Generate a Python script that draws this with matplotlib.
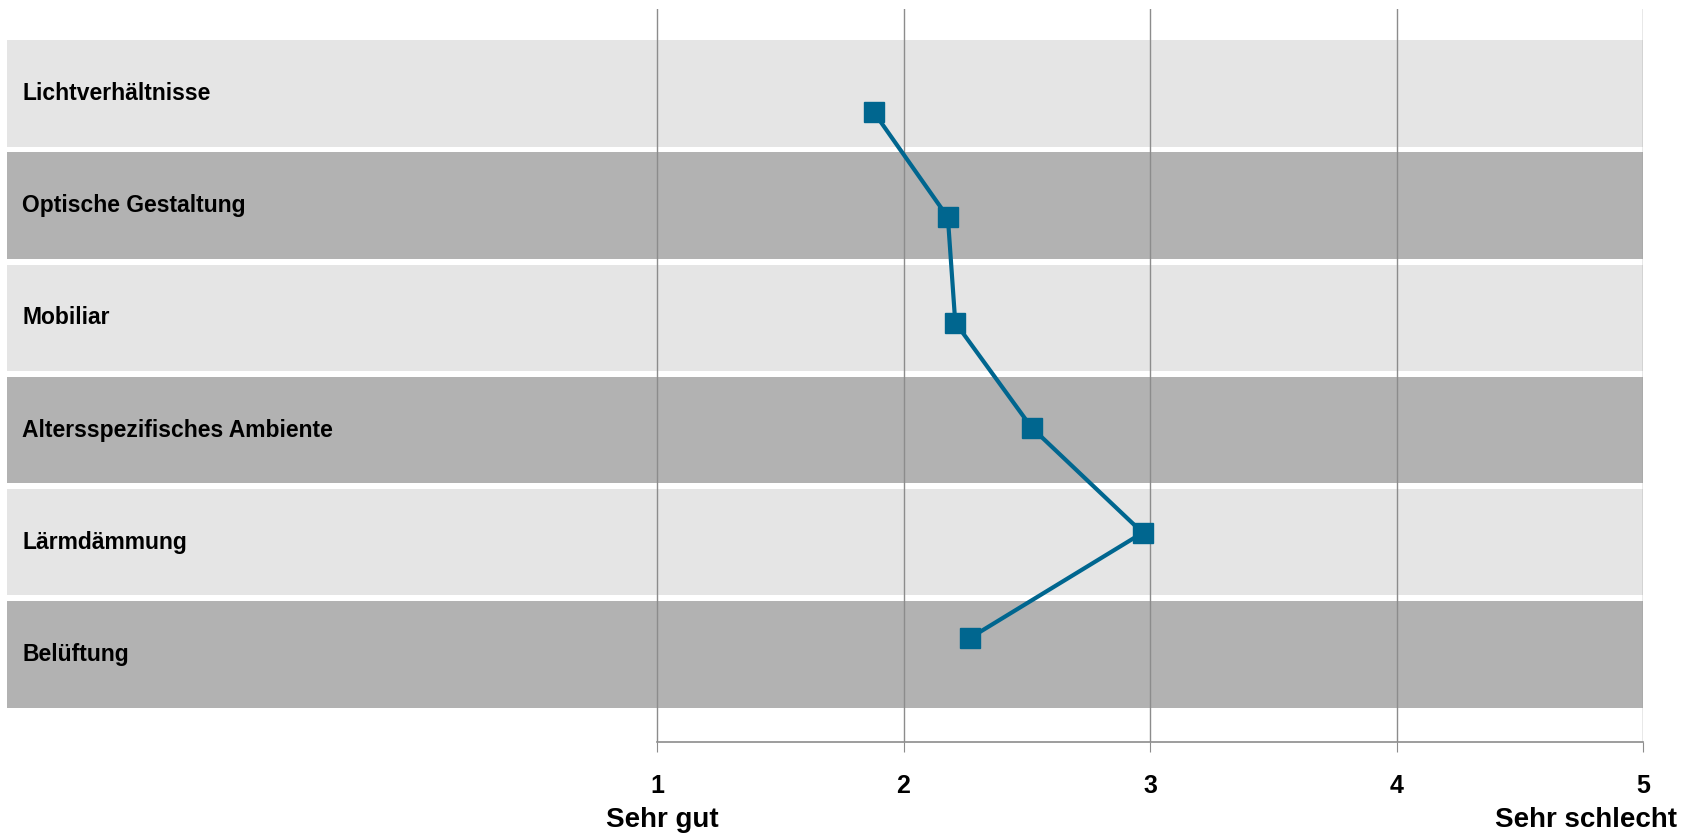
import numpy as np
import matplotlib
matplotlib.use("Agg")
import matplotlib.pyplot as plt

# data
categories = ["Lichtverhältnisse", "Optische Gestaltung", "Mobiliar",
              "Altersspezifisches Ambiente", "Lärmdämmung", "Belüftung"]
scores = [1.88, 2.18, 2.21, 2.52, 2.97, 2.27]
ticks = [1, 2, 3, 4, 5]
tick_labels = ["1", "2", "3", "4", "5"]
end_labels = ["Sehr gut", "Sehr schlecht"]

plt.rcParams['font.family'] = ['Liberation Sans', 'DejaVu Sans']

W, H = 1687, 834
fig = plt.figure(figsize=(W / 100, H / 100), dpi=100)
# axes area in pixels
left_px, right_px, top_px, bot_px = 6.5, 1643, 9, 742
ax = fig.add_axes([left_px / W, 1 - bot_px / H, (right_px - left_px) / W, (bot_px - top_px) / H])

xmin = 1 - (657 - left_px) / 246.5
ax.set_xlim(xmin, 5)
ax.set_ylim(5.78, -0.752)

band_colors = ["#e5e5e5", "#b2b2b2"]
ypos = np.arange(len(categories))
for i, cat in enumerate(categories):
    ax.barh(i, 5 - xmin, left=xmin, height=0.948, color=band_colors[i % 2], zorder=1)
    ax.text(0.0095, i, cat, transform=ax.get_yaxis_transform(), ha='left', va='center',
            fontsize=16.5, fontweight='bold', color='black', zorder=3)

ax.set_xticks(ticks)
ax.set_xticklabels(tick_labels, fontsize=18, fontweight='bold')
ax.tick_params(axis='x', length=7, color='#8c8c8c', pad=16)
ax.set_yticks([])
ax.grid(axis='x', color='#8c8c8c', linewidth=1.0)
ax.set_axisbelow(False)
for s in ['top', 'left', 'right']:
    ax.spines[s].set_visible(False)
ax.spines['bottom'].set_bounds(1, 5)
ax.spines['bottom'].set_color('#8c8c8c')
ax.spines['bottom'].set_linewidth(1.2)
ax.set_facecolor('none')

# end labels under the tick numbers
ax.text(1.02, -0.088, end_labels[0], transform=ax.get_xaxis_transform(), ha='center', va='top',
        fontsize=20, fontweight='bold')
ax.text((1677 - left_px) / (right_px - left_px), -0.088, end_labels[1], transform=ax.transAxes,
        ha='right', va='top', fontsize=20, fontweight='bold')

# the line uses its own vertical scale
ax2 = ax.twinx()
ax2.set_ylim(5.99, -0.982)
ax2.plot(scores, ypos, color='#00668f', linewidth=3.0, marker='s', markersize=14, zorder=5)
ax2.set_yticks([])
for s in ax2.spines.values():
    s.set_visible(False)

fig.savefig("out.png", dpi=100)
